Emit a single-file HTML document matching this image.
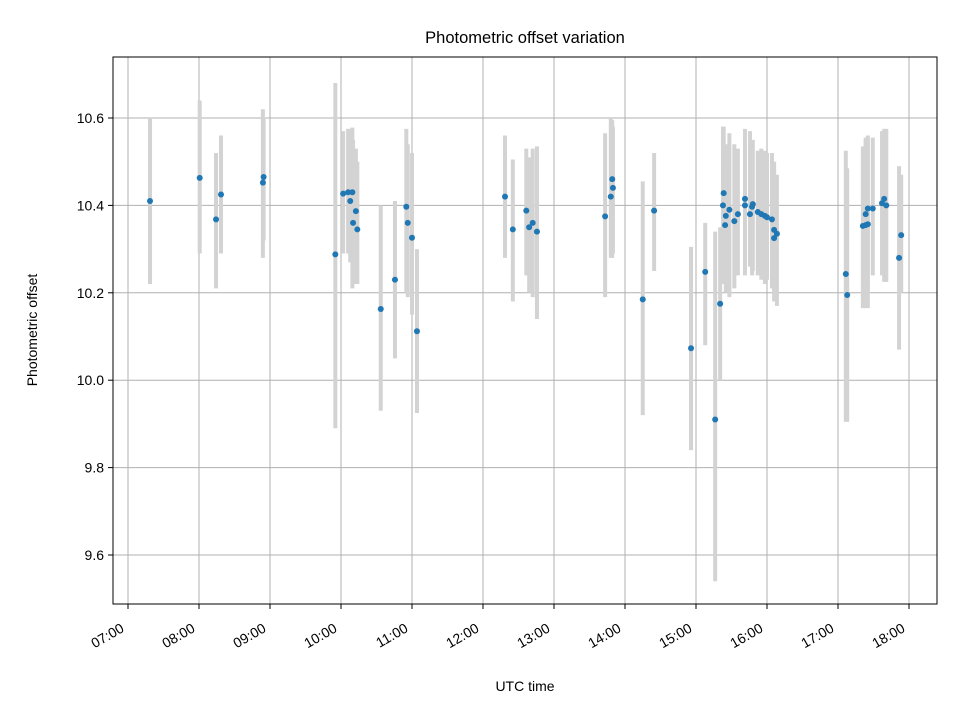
<!DOCTYPE html>
<html><head><meta charset="utf-8"><style>
body{margin:0;background:#fff;}
svg{display:block;font-family:"Liberation Sans","DejaVu Sans",sans-serif;}
</style></head><body>
<svg id="chart" width="960" height="720" viewBox="0 0 960 720">
<rect width="960" height="720" fill="#fff"/>
<g id="grid"></g>
<g id="errs"></g>
<g id="pts"></g>
<rect x="113" y="57" width="824" height="547" fill="none" stroke="#000" stroke-width="1"/>
<g id="axes"></g>
<text x="525" y="43" text-anchor="middle" font-size="16.5">Photometric offset variation</text>
<text x="525" y="691" text-anchor="middle" font-size="14">UTC time</text>
<text transform="translate(37,330) rotate(-90)" text-anchor="middle" font-size="14">Photometric offset</text>
</svg>
<script>
// times in decimal hours (UTC)
const times=[7.31,8.01,8.24,8.31,8.90,8.91,9.92,10.03,10.10,10.13,10.16,10.17,10.21,10.23,10.56,10.76,10.92,10.94,11.0,11.07,
12.31,12.42,12.61,12.65,12.70,12.76,13.72,13.80,13.82,13.83,14.25,14.41,14.93,15.13,15.27,15.34,
15.39,15.38,15.47,15.42,15.41,15.54,15.59,15.69,15.69,15.76,15.80,15.79,15.87,15.92,15.97,16.0,16.07,16.10,16.14,16.10,
17.11,17.13,17.35,17.39,17.42,17.39,17.42,17.49,17.62,17.65,17.68,17.86,17.89];
const values=[10.41,10.463,10.368,10.425,10.452,10.465,10.288,10.427,10.43,10.41,10.43,10.36,10.387,10.345,10.163,10.23,10.397,10.36,10.326,10.112,
10.42,10.345,10.388,10.35,10.36,10.34,10.375,10.42,10.46,10.44,10.185,10.388,10.073,10.248,9.91,10.175,
10.428,10.40,10.39,10.376,10.355,10.364,10.38,10.415,10.40,10.38,10.403,10.397,10.385,10.38,10.376,10.373,10.368,10.344,10.335,10.325,
10.243,10.195,10.353,10.355,10.357,10.38,10.393,10.393,10.405,10.415,10.40,10.28,10.332];
const lows=[10.22,10.29,10.21,10.29,10.28,10.32,9.89,10.29,10.29,10.27,10.21,10.22,10.22,10.22,9.93,10.05,10.20,10.19,10.15,9.925,
10.28,10.18,10.24,10.20,10.19,10.14,10.19,10.28,10.28,10.29,9.92,10.25,9.84,10.08,9.54,10.0,
10.22,10.25,10.19,10.20,10.23,10.21,10.24,10.24,10.26,10.26,10.25,10.24,10.24,10.23,10.22,10.23,10.21,10.18,10.17,10.20,
9.905,9.905,10.165,10.165,10.165,10.2,10.2,10.24,10.24,10.225,10.225,10.07,10.2];
const highs=[10.60,10.64,10.52,10.56,10.62,10.60,10.68,10.57,10.575,10.575,10.578,10.55,10.53,10.50,10.40,10.41,10.575,10.54,10.52,10.30,
10.56,10.505,10.53,10.51,10.53,10.535,10.565,10.60,10.595,10.58,10.455,10.52,10.305,10.36,10.34,10.35,
10.58,10.58,10.565,10.54,10.50,10.54,10.53,10.575,10.535,10.57,10.55,10.54,10.525,10.53,10.525,10.52,10.52,10.50,10.47,10.48,
10.525,10.485,10.535,10.55,10.56,10.555,10.555,10.555,10.57,10.575,10.575,10.49,10.47];
const xTicks=[7,8,9,10,11,12,13,14,15,16,17,18];
const yTicks=[9.6,9.8,10.0,10.2,10.4,10.6];

const NS="http://www.w3.org/2000/svg";
const x=h=>128+(h-7)*71;
const y=v=>118+(10.6-v)*437;
function mk(tag,attrs,parent){const e=document.createElementNS(NS,tag);for(const k in attrs)e.setAttribute(k,attrs[k]);parent.appendChild(e);return e;}
const grid=document.getElementById('grid'),axes=document.getElementById('axes'),errs=document.getElementById('errs'),pts=document.getElementById('pts');
xTicks.forEach(h=>{
  const X=x(h);
  const g=mk('line',{x1:X,x2:X,y1:57,y2:604,stroke:'#b0b0b0','stroke-width':1},grid);
  
  
  const t=mk('line',{x1:X,x2:X,y1:604,y2:609,stroke:'#000'},axes);
  
  
  const lb=mk('text',{transform:`translate(${X-3},${631}) rotate(-30)`,'text-anchor':'end','font-size':14},axes);
  lb.textContent=String(h).padStart(2,'0')+':00';
  
  
});
yTicks.forEach(v=>{
  const Y=y(v);
  const g=mk('line',{x1:113,x2:937,y1:Y,y2:Y,stroke:'#b0b0b0','stroke-width':1},grid);
  
  
  const t=mk('line',{x1:108,x2:113,y1:Y,y2:Y,stroke:'#000'},axes);
  
  
  const lb=mk('text',{x:104,y:Y+5,'text-anchor':'end','font-size':14},axes);
  lb.textContent=v.toFixed(1);
  
  
});
times.forEach((h,i)=>{
  const e=mk('line',{x1:x(h),x2:x(h),y1:y(lows[i]),y2:y(highs[i]),stroke:'#d3d3d3','stroke-width':4},errs);
  
  
});
times.forEach((h,i)=>{
  const c=mk('circle',{cx:x(h),cy:y(values[i]),r:3,fill:'#1f77b4'},pts);
  
  
});
</script>
</body></html>
